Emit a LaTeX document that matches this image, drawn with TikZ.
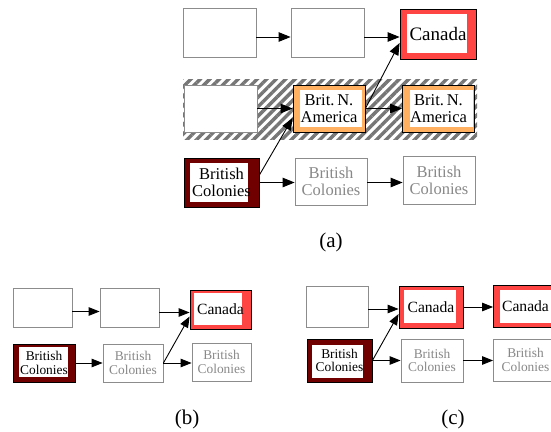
\documentclass[tikz,border=0pt]{standalone}
\usepackage{fontspec}
\setmainfont{Liberation Serif}
\usetikzlibrary{arrows.meta,patterns.meta}

\definecolor{canred}{RGB}{255,68,68}
\definecolor{bnaorange}{RGB}{255,176,96}
\definecolor{coldark}{RGB}{112,0,0}
\definecolor{frame}{RGB}{140,140,140}
\definecolor{faded}{RGB}{136,136,136}
\definecolor{hatch}{RGB}{118,118,118}

\tikzset{
  box/.style={draw=frame, fill=white, line width=0.8pt, inner sep=0pt, align=center},
  fadedbox/.style={box, text=faded},
  colbox/.style={draw=black, line width=0.8pt, inner sep=0pt, align=center},
  % white panel inside a coloured frame: left, right, top, bottom insets
  inset/.style n args={4}{path picture={
      \fill[white] ([xshift=#1pt,yshift=-#3pt]path picture bounding box.north west)
        rectangle ([xshift=-#2pt,yshift=#4pt]path picture bounding box.south east);}},
  canada/.style={colbox, fill=canred},
  bna/.style={colbox, fill=bnaorange},
  colonies/.style={colbox, fill=coldark},
  sz/.style n args={2}{minimum width=#1pt, minimum height=#2pt},
  bigtxt/.style={font=\fontsize{16.5}{17}\selectfont},
  bigcan/.style={font=\fontsize{19}{20}\selectfont},
  smalltxt/.style={font=\fontsize{13.4}{13.6}\selectfont},
  smallcan/.style={font=\fontsize{15.6}{16}\selectfont},
  caption/.style={font=\fontsize{21}{22}\selectfont},
  link/.style={line width=0.9pt, -{Triangle[length=12pt,width=9.5pt]}},
  slink/.style={line width=0.9pt, -{Triangle[length=11pt,width=8.5pt]}},
}

\begin{document}
\begin{tikzpicture}[x=1pt,y=-1pt]
\useasboundingbox (0,0) rectangle (551,431);

% ---------- (a) ----------
\fill[pattern={Lines[angle=45,distance=6.7pt,line width=3.4pt]}, pattern color=hatch]
  (183,79) rectangle (477,139);

\node[box, sz={73}{49}] (a11) at (219.5,32.5) {};
\node[box, sz={73}{49}] (a12) at (327.5,32.5) {};
\node[canada, inset={7}{9}{5}{6}, sz={76}{50}, bigcan] (a13) at (438,34) {Canada};

\node[box, sz={73}{47}] (a21) at (220.5,108.5) {};
\node[bna, inset={7}{3}{5}{5}, sz={72}{47}, bigtxt] (a22) at (329,108.5) {Brit.\,N.\\America};
\node[bna, inset={7}{2}{5}{5}, sz={72}{47}, bigtxt] (a23) at (438.5,108.5) {Brit.\,N.\\America};

\node[colonies, inset={6}{11}{5}{5}, sz={75}{49}, bigtxt] (a31) at (221.5,182.5) {British\\Colonies};
\node[fadedbox, sz={72}{47}, bigtxt] (a32) at (331,181.5) {British\\Colonies};
\node[fadedbox, sz={72}{48}, bigtxt] (a33) at (439,180) {British\\Colonies};

\draw[link] ([yshift=-4.5pt]a11.east) -- ([yshift=-4.5pt]a11.east -| a12.west);
\draw[link] ([yshift=-4.5pt]a12.east) -- ([yshift=-4.5pt]a12.east -| a13.west);
\draw[link] (a21.east) -- (a21.east -| a22.west);
\draw[link] (a22.east) -- (a22.east -| a23.west);
\draw[link] (a22.east) -- ([yshift=-9pt]a13.west);
\draw[link] ([yshift=7.5pt]a31.east) -- ([yshift=-9.5pt]a22.west);
\draw[link] (a31.east) -- (a31.east -| a32.west);
\draw[link] ([yshift=-1pt]a32.east) -- ([yshift=-1pt]a32.east -| a33.west);

\node[caption] (capa) at (331,242) {(a)};

% ---------- (b) ----------
\node[box, sz={59}{39}] (b11) at (42.5,307.5) {};
\node[box, sz={59}{39}] (b12) at (129.5,307.5) {};
\node[canada, inset={4}{9}{3}{4}, sz={61}{39}, smallcan] (b13) at (220.5,309.5) {Canada};

\node[colonies, inset={6}{7}{3}{5}, sz={62}{38}, smalltxt] (b21) at (44,363) {British\\Colonies};
\node[fadedbox, sz={60}{38}, smalltxt] (b22) at (133,363) {British\\Colonies};
\node[fadedbox, sz={59}{38}, smalltxt] (b23) at (221.5,362) {British\\Colonies};

\draw[slink] ([yshift=-4pt]b11.east) -- ([yshift=-4pt]b11.east -| b12.west);
\draw[slink] ([yshift=-5pt]b12.east) -- ([yshift=-5pt]b12.east -| b13.west);
\draw[slink] (b21.east) -- (b21.east -| b22.west);
\draw[slink] (b22.east) -- (b22.east -| b23.west);
\draw[slink] (b22.east) -- ([yshift=-7pt]b13.west);

\node[caption] (capb) at (187,419) {(b)};

% ---------- (c) ----------
\node[box, sz={62}{41}] (c11) at (337,306.5) {};
\node[canada, inset={5}{7}{4}{5}, sz={64}{42}, smallcan] (c12) at (431,307) {Canada};
\node[canada, inset={6}{7}{4}{5}, sz={64}{42}, smallcan] (c13) at (525.5,306.5) {Canada};

\node[colonies, inset={5}{9}{6}{4}, sz={65}{43}, smalltxt] (c21) at (339.5,360.5) {British\\Colonies};
\node[fadedbox, sz={62}{43}, smalltxt] (c22) at (432,360.5) {British\\Colonies};
\node[fadedbox, sz={64}{42}, smalltxt] (c23) at (525.5,360) {British\\Colonies};

\draw[slink] ([yshift=-2.5pt]c11.east) -- ([yshift=-2.5pt]c11.east -| c12.west);
\draw[slink] (c12.east) -- (c12.east -| c13.west);
\draw[slink] (c21.east) -- (c21.east -| c22.west);
\draw[slink] (c22.east) -- (c22.east -| c23.west);
\draw[slink] (c21.east) -- ([yshift=-7pt]c12.west);

\node[caption] (capc) at (453,419) {(c)};
\end{tikzpicture}
\end{document}
